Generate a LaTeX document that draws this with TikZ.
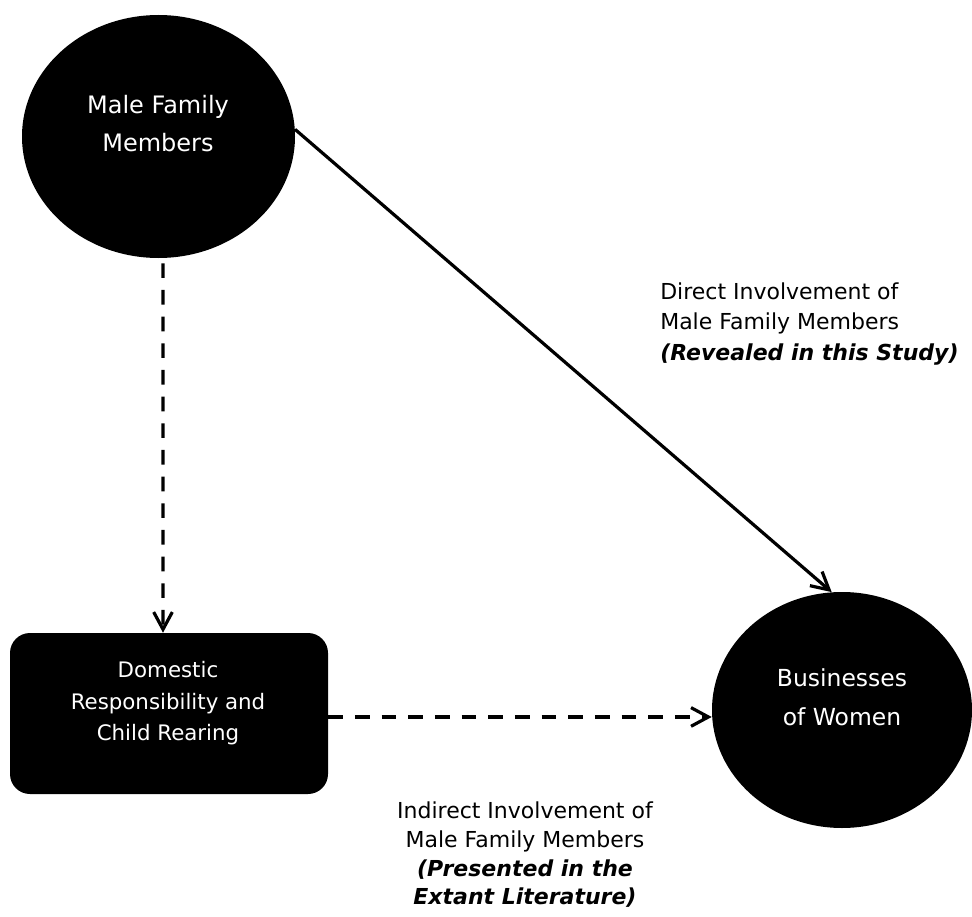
\documentclass[tikz,border=0pt]{standalone}
\usepackage{fontspec}
\setmainfont{DejaVu Sans}
\usetikzlibrary{shapes.geometric,arrows.meta}
\begin{document}
\begin{tikzpicture}[x=0.75pt,y=-0.75pt,
  blob/.style={ellipse, fill=black, draw=none, inner sep=0pt},
  boxnode/.style={rectangle, rounded corners=15pt, fill=black, draw=none, inner sep=0pt},
  intext/.style={text=white, align=center, inner sep=0pt, font=\fontsize{18}{28.5}\selectfont},
  lbl/.style={text=black, inner sep=0pt, font=\fontsize{16.5}{23}\selectfont},
  conn/.style={line width=2.4pt, -{Straight Barb[length=13pt,width=14pt,line width=2.4pt]}},
  dashconn/.style={conn, dash pattern=on 11pt off 9pt},
]
\useasboundingbox (0,0) rectangle (972,917);

% shapes
\node[blob, minimum width=204.75pt, minimum height=182.25pt] (male) at (158.5,136.5) {};
\node[blob, minimum width=195pt, minimum height=177pt] (biz) at (842,710) {};
\node[boxnode, minimum width=238.5pt, minimum height=120.75pt] (dom) at (169,713.5) {};

% texts inside shapes
\node[intext] (maletxt) at (158,123.5) {Male Family\\Members};
\node[intext, font=\fontsize{17.6}{29}\selectfont] (biztxt) at (842,697.5) {Businesses\\of Women};
\node[intext, font=\fontsize{16}{23.6}\selectfont] (domtxt) at (168,703.5) {Domestic\\Responsibility and\\Child Rearing};

% connectors
\draw[dashconn, shorten <=3.75pt] ([xshift=3.4pt]male.south) -- ([xshift=-4.5pt]dom.north);
\draw[dashconn] ([yshift=-2.6pt]dom.east) -- ([yshift=-2.6pt]dom.east -| biz.west);
\draw[conn] (male.3) -- (biz.95);

% labels
\node[lbl, align=left, anchor=west] (dirlbl) at (660,324) {Direct Involvement of\\Male Family Members\\\textbf{\textit{(Revealed in this Study)}}};
\node[lbl, align=center, font=\fontsize{16.5}{21.5}\selectfont] (indlbl) at (525,855) {Indirect Involvement of\\Male Family Members\\\textbf{\textit{(Presented in the}}\\\textbf{\textit{Extant Literature)}}};
\end{tikzpicture}
\end{document}
